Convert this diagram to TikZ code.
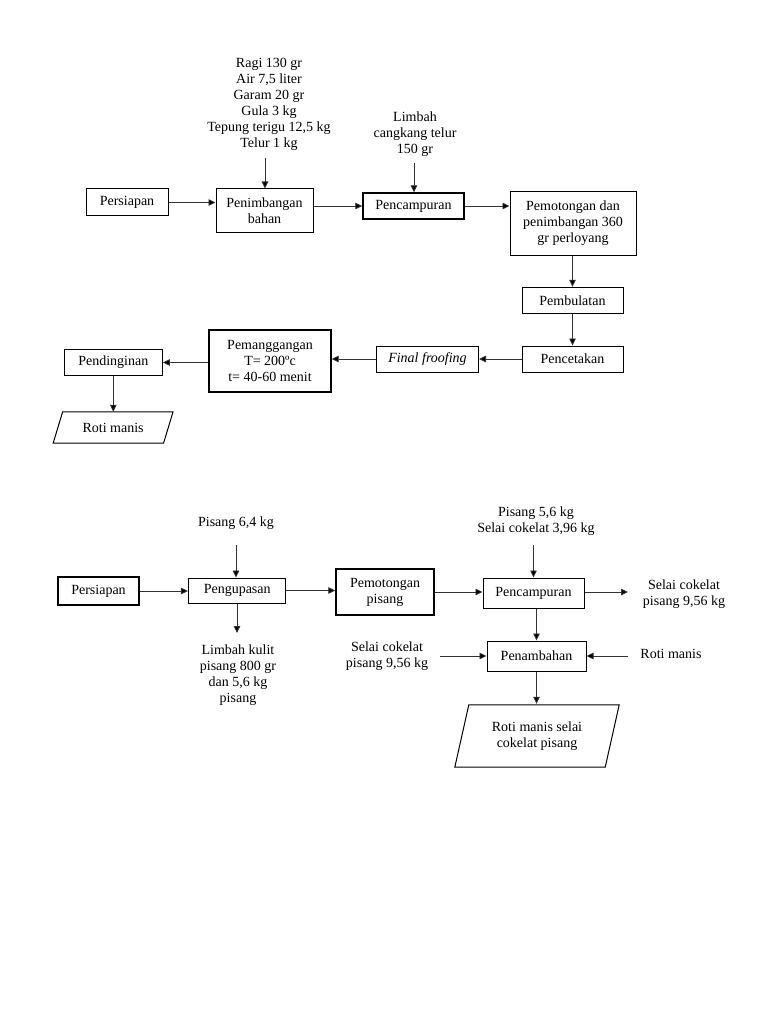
\documentclass[tikz,border=0pt]{standalone}
\usepackage{fontspec}
\setmainfont{Liberation Serif}
\usetikzlibrary{arrows.meta}
\begin{document}
\begin{tikzpicture}[x=1pt,y=-1pt,
  every node/.style={font=\fontsize{14}{16}\selectfont, align=center, inner sep=0pt},
  proc/.style 2 args={draw, line width=1pt, minimum width=#1, minimum height=#2},
  heavy/.style={line width=1.4pt},
  paraarea/.style 2 args={minimum width=#1, minimum height=#2},
  paraline/.style={draw, line width=1pt, line join=miter},
  arr/.style={draw=black!80, line width=0.8pt, -{Triangle[length=7pt,width=6.5pt,fill=black]}}]
\useasboundingbox (0,0) rectangle (768,1024);

% ---------- upper flow ----------
\node[proc={82pt}{27pt}] (pers1) at (127,202.5) {Persiapan};
\node[proc={97pt}{44pt}] (penim) at (264.5,211) {Penimbangan\\bahan};
\node[proc={101pt}{26pt}, heavy] (penc1) at (413.5,206) {Pencampuran};
\node[proc={126pt}{63pt}] (pemot) at (573,223.5) {Pemotongan dan\\penimbangan 360\\gr perloyang};
\node[proc={101pt}{26pt}] (pembul) at (572.5,300.3) {Pembulatan};
\node[proc={101pt}{26pt}] (pencet) at (572.5,359) {Pencetakan};
\node[proc={102pt}{26pt}] (final) at (427.5,359) {\itshape Final froofing};
\node[proc={122pt}{62pt}, heavy] (pemang) at (270,361) {Pemanggangan\\T= 200ºc\\t= 40-60 menit};
\node[proc={98pt}{26pt}] (pend) at (113.3,362.5) {Pendinginan};
\node[paraarea={110pt}{31pt}] (roti1) at (113.1,427.5) {Roti manis};
\draw[paraline] ([xshift=4.75pt]roti1.north west) -- ([xshift=4.75pt]roti1.north east)
  -- ([xshift=-4.75pt]roti1.south east) -- ([xshift=-4.75pt]roti1.south west) -- cycle;

\node (ingr) at (269,104.5) {Ragi 130 gr\\Air 7,5 liter\\Garam 20 gr\\Gula 3 kg\\Tepung terigu 12,5 kg\\Telur 1 kg};
\node (limbah1) at (415,134.5) {Limbah\\cangkang telur\\150 gr};
\coordinate (ingrA) at (265,158);
\coordinate (limbA) at (414,163);

\draw[arr] (ingrA) -- (ingrA |- penim.north);
\draw[arr] (limbA) -- (limbA |- penc1.north);
\draw[arr] (pers1.east) -- (pers1.east -| penim.west);
\draw[arr] (penim.east |- penc1.west) -- (penc1.west);
\draw[arr] (penc1.east) -- (penc1.east -| pemot.west);
\draw[arr] (pembul.north |- pemot.south) -- (pembul.north);
\draw[arr] (pembul.south) -- (pencet.north);
\draw[arr] (pencet.west) -- (final.east);
\draw[arr] (final.west) -- (final.west -| pemang.east);
\draw[arr] (pend.east -| pemang.west) -- (pend.east);
\draw[arr] (pend.south) -- (pend.south |- roti1.north);

% ---------- lower flow ----------
\node[proc={81pt}{28pt}, heavy] (pers2) at (98.5,591) {Persiapan};
\node[proc={97.5pt}{25pt}] (peng) at (237.2,590.5) {Pengupasan};
\node[proc={98pt}{46pt}, heavy] (pemp) at (385,592) {Pemotongan\\pisang};
\node[proc={101pt}{30pt}] (penc2) at (533.5,593) {Pencampuran};
\node[proc={99pt}{30pt}] (penamb) at (536.5,656) {Penambahan};
\node[paraarea={150pt}{62pt}] (roti2) at (537,736) {Roti manis selai\\cokelat pisang};
\draw[paraline] ([xshift=7pt]roti2.north west) -- ([xshift=7pt]roti2.north east)
  -- ([xshift=-7pt]roti2.south east) -- ([xshift=-7pt]roti2.south west) -- cycle;

\node (p64) at (236,523) {Pisang 6,4 kg};
\node (limbah2) at (238,675.5) {Limbah kulit\\pisang 800 gr\\dan 5,6 kg\\pisang};
\node (p56) at (536,521) {Pisang 5,6 kg\\Selai cokelat 3,96 kg};
\node (sc1) at (684,594.5) {Selai cokelat\\pisang 9,56 kg};
\node (sc2) at (387,656) {Selai cokelat\\pisang 9,56 kg};
\node (rm) at (671,654) {Roti manis};

\coordinate (p64A) at (236,545);
\coordinate (p56A) at (533.5,545);
\coordinate (limbB) at (237,633);
\coordinate (scA) at (628,592);
\coordinate (sc2A) at (440,656);
\coordinate (rmA) at (628,656);

\draw[arr] (p64A) -- (p64A |- peng.north);
\draw[arr] (peng.south -| limbB) -- (limbB);
\draw[arr] (pers2.east) -- (pers2.east -| peng.west);
\draw[arr] (peng.east) -- (peng.east -| pemp.west);
\draw[arr] (pemp.east) -- (pemp.east -| penc2.west);
\draw[arr] (p56A) -- (p56A |- penc2.north);
\draw[arr] (scA -| penc2.east) -- (scA);
\draw[arr] (penamb.north |- penc2.south) -- (penamb.north);
\draw[arr] (sc2A) -- (sc2A -| penamb.west);
\draw[arr] (rmA) -- (rmA -| penamb.east);
\draw[arr, shorten >=1pt] (penamb.south) -- (penamb.south |- roti2.north);
\end{tikzpicture}
\end{document}
